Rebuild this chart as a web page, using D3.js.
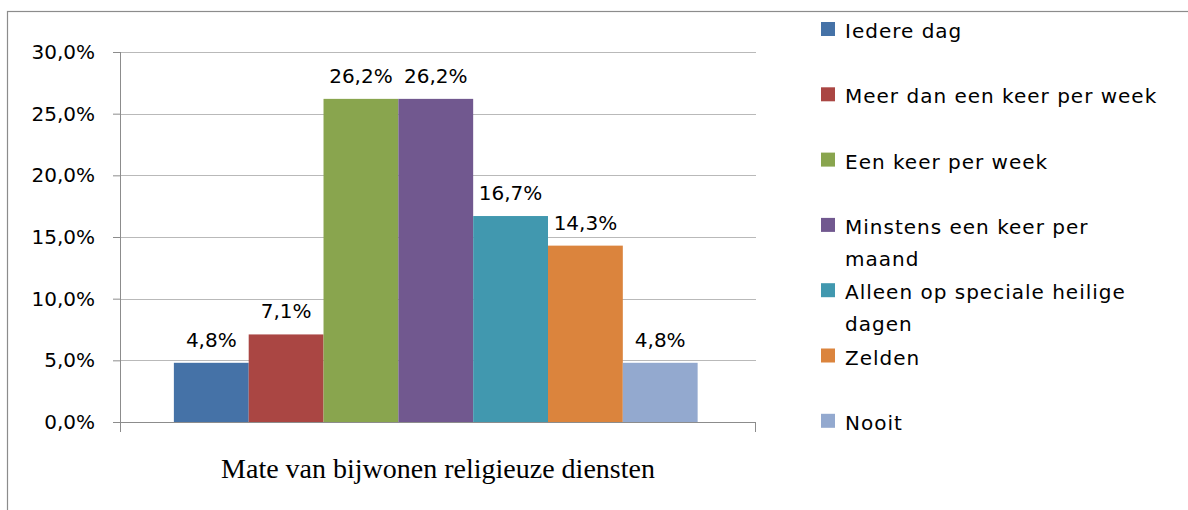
<!DOCTYPE html>
<html>
<head>
<meta charset="utf-8">
<script src="https://cdn.jsdelivr.net/npm/d3@7"></script>
<style>
  body { margin: 0; background: #fff; }
  text { font-family: "DejaVu Sans", sans-serif; fill: #000; }
</style>
</head>
<body>
<svg id="chart" width="1188" height="510"></svg>
<script>
// data
var categories = ["Iedere dag", "Meer dan een keer per week", "Een keer per week",
  "Minstens een keer per maand", "Alleen op speciale heilige dagen", "Zelden", "Nooit"];
var values = [4.8, 7.1, 26.2, 26.2, 16.7, 14.3, 4.8];
var colors = ["#4572A7", "#AA4643", "#89A54E", "#71588F", "#4198AF", "#DB843D", "#93A9CF"];
var yTicks = [0, 5, 10, 15, 20, 25, 30];
var axisTitle = "Mate van bijwonen religieuze diensten";

var svg = d3.select("#chart"),
  width = +svg.attr("width"),
  height = +svg.attr("height");

var nl = d3.formatLocale({decimal: ",", thousands: ".", grouping: [3], currency: ["€", ""]});
var fmt = nl.format(".1f");

var margin = {left: 120, top: 52, right: 432, bottom: 88};
var plotW = width - margin.left - margin.right,
  plotH = height - margin.top - margin.bottom;

// outer frame (right and bottom edges fall outside the picture)
svg.append("rect")
  .attr("x", 7.5).attr("y", 11.5)
  .attr("width", 1300).attr("height", 600)
  .attr("fill", "none").attr("stroke", "#8c8c8c").attr("stroke-width", 1.2);

var g = svg.append("g").attr("transform", "translate(" + margin.left + "," + margin.top + ")");

var y = d3.scaleLinear().domain([0, 30]).range([plotH, 0]);
var x = d3.scaleBand().domain(categories).range([0, plotW])
  .paddingInner(0).paddingOuter(0.75).align(0.48);

// gridlines
g.selectAll(".grid").data(yTicks.slice(1)).enter().append("line")
  .attr("x1", 0).attr("x2", plotW)
  .attr("y1", d => Math.round(y(d)) + 0.5).attr("y2", d => Math.round(y(d)) + 0.5)
  .attr("stroke", "#b9b9b9").attr("stroke-width", 1);

// y axis
var yAxis = g.append("g")
  .call(d3.axisLeft(y).tickValues(yTicks).tickSize(7).tickPadding(18).tickFormat(d => fmt(d) + "%"));
yAxis.select(".domain").remove();
yAxis.selectAll("line").attr("stroke", "#8c8c8c");
yAxis.selectAll("text").style("font-family", "DejaVu Sans").style("font-size", "20px").attr("fill", "#000");
g.append("line").attr("x1", 0.5).attr("x2", 0.5).attr("y1", 0).attr("y2", plotH + 10)
  .attr("stroke", "#8c8c8c");

// bars
g.selectAll(".bar").data(values).enter().append("rect")
  .attr("x", (d, i) => x(categories[i]))
  .attr("width", x.bandwidth())
  .attr("y", d => y(d))
  .attr("height", d => plotH - y(d))
  .attr("fill", (d, i) => colors[i]);

// x axis line with end ticks
g.append("line").attr("x1", 0).attr("x2", plotW).attr("y1", plotH + 0.5).attr("y2", plotH + 0.5)
  .attr("stroke", "#8c8c8c");
g.append("line").attr("x1", plotW - 0.5).attr("x2", plotW - 0.5).attr("y1", plotH).attr("y2", plotH + 10)
  .attr("stroke", "#8c8c8c");

// value labels
g.selectAll(".lbl").data(values).enter().append("text")
  .attr("x", (d, i) => x(categories[i]) + x.bandwidth() / 2)
  .attr("y", d => y(d) - 16)
  .attr("text-anchor", "middle")
  .style("font-size", "20px")
  .text(d => fmt(d) + "%");

// axis title
svg.append("text")
  .attr("x", margin.left + plotW / 2)
  .attr("y", 478)
  .attr("text-anchor", "middle")
  .style("font-family", "'Liberation Serif', 'Times New Roman', serif")
  .style("font-size", "28px")
  .text(axisTitle);

// legend
var legend = svg.append("g").attr("transform", "translate(821,22)");
var rowH = 65.3;
categories.forEach(function (c, i) {
  var row = legend.append("g").attr("transform", "translate(0," + (i * rowH) + ")");
  row.append("rect").attr("width", 14).attr("height", 14).attr("fill", colors[i]);
  var t = row.append("text").attr("x", 24).attr("y", 16)
    .style("font-size", "20px").style("letter-spacing", "1px");
  // wrap long labels
  var words = c.split(" "), line = [];
  var tspan = t.append("tspan").attr("x", 24).attr("dy", 0);
  words.forEach(function (w) {
    line.push(w);
    tspan.text(line.join(" "));
    if (tspan.node().getComputedTextLength() > 320 && line.length > 1) {
      line.pop();
      tspan.text(line.join(" "));
      line = [w];
      tspan = t.append("tspan").attr("x", 24).attr("dy", 32).text(w);
    }
  });
});
</script>
</body>
</html>
